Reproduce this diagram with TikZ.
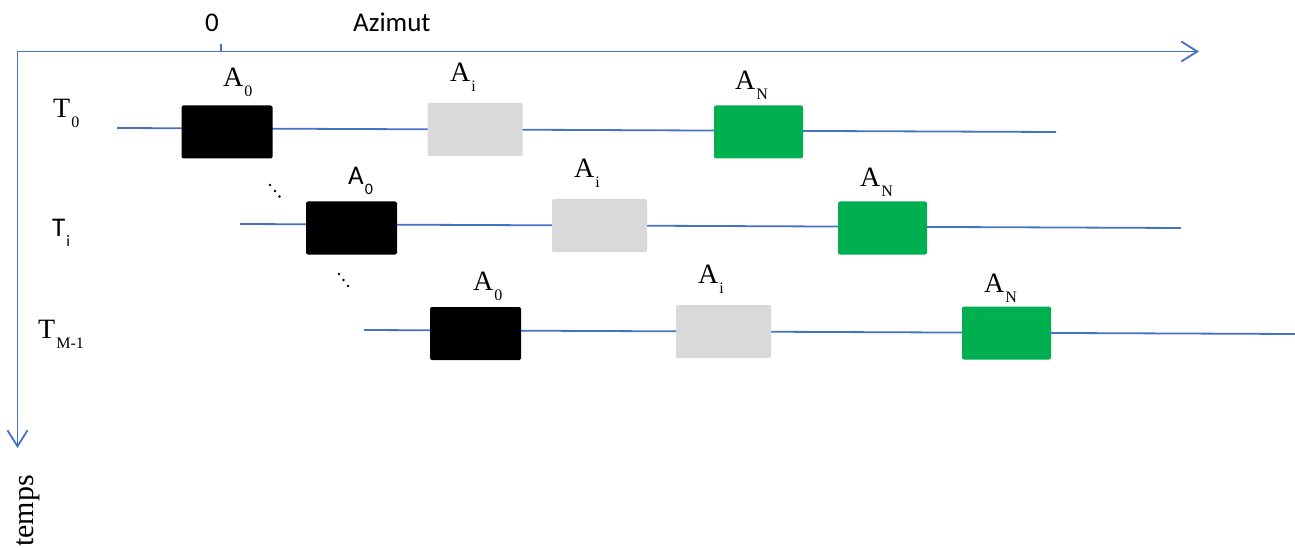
\documentclass[tikz,border=0pt]{standalone}
\usepackage{fontspec}
\setmainfont{Liberation Serif}
\newfontfamily\sansf{Carlito}
\usetikzlibrary{arrows.meta}
\definecolor{axisblue}{RGB}{68,114,196}
\definecolor{boxgray}{RGB}{217,217,217}
\definecolor{boxgreen}{RGB}{0,176,80}
\newcommand\serlab[2]{{\fontsize{28}{28}\selectfont #1}\kern1pt\raisebox{-10pt}{\fontsize{16}{16}\selectfont #2}}
\newcommand\sanlab[2]{{\sansf\fontsize{27}{27}\selectfont #1}\kern1pt\raisebox{-10pt}{\sansf\fontsize{16}{16}\selectfont #2}}
\tikzset{
  axisline/.style={draw=axisblue, line width=1.8pt, {Straight Barb[length=16pt,width=20pt,line width=1.8pt]}-{Straight Barb[length=16pt,width=20pt,line width=1.8pt]}},
  rowline/.style={draw=axisblue, line width=1.8pt},
  tickline/.style={draw=axisblue, line width=1.8pt},
  abox/.style={rectangle, rounded corners=2pt, inner sep=0pt, minimum height=53pt},
  blackbox/.style={abox, fill=black, minimum width=91pt},
  graybox/.style={abox, fill=boxgray, minimum width=95pt},
  greenbox/.style={abox, fill=boxgreen, minimum width=89pt},
  lab/.style={anchor=base west, inner sep=0pt, text=black},
  dotmark/.style={circle, fill=black, inner sep=0pt, minimum size=2.6pt},
}
\begin{document}
\begin{tikzpicture}[x=1pt,y=-1pt]
\useasboundingbox (0,0) rectangle (1295,548);
% axes
\coordinate (corner) at (17.5,51.5);
\coordinate (hend) at (1199,51.5);
\coordinate (vend) at (17.5,448);
\draw[axisline] (vend) -- (corner) -- (hend);
\coordinate (tickt) at (221,44);
\coordinate (tickb) at (221,51.5);
\draw[tickline] (tickt) -- (tickb);
\node[lab] (zero) at (205,32) {\sansf\fontsize{27}{27}\selectfont 0};
\node[lab] (azimut) at (353,32) {\sansf\fontsize{27}{27}\selectfont Azimut};
\node[lab, rotate=90] (temps) at (33,547) {\fontsize{30}{30}\selectfont temps};
% row labels
\node[lab] (t0) at (53,118) {\serlab{T}{0}};
\node[lab] (ti) at (52,236) {\sanlab{T}{i}};
\node[lab] (tm) at (38,338) {\serlab{T}{M-1}};
% row lines
\coordinate (r1s) at (117,128);
\coordinate (r1e) at (1056,132);
\coordinate (r2s) at (240,224);
\coordinate (r2e) at (1181,228);
\coordinate (r3s) at (364,330);
\coordinate (r3e) at (1295,334);
\draw[rowline] (r1s) -- (r1e);
\draw[rowline] (r2s) -- (r2e);
\draw[rowline] (r3s) -- (r3e);
% row 1 boxes
\node[blackbox] (b10) at (227,132) {};
\node[graybox] (b1i) at (475,129.5) {};
\node[greenbox] (b1n) at (758.5,132) {};
\node[lab] (l10) at (223,87) {\serlab{A}{0}};
\node[lab] (l1i) at (450,82) {\serlab{A}{i}};
\node[lab] (l1n) at (735,90) {\serlab{A}{N}};
% row 2 boxes
\node[blackbox] (b20) at (351.5,228) {};
\node[graybox] (b2i) at (599.5,225.5) {};
\node[greenbox] (b2n) at (882.5,228) {};
\node[lab] (l20) at (348,185) {\sanlab{A}{0}};
\node[lab] (l2i) at (574,178) {\serlab{A}{i}};
\node[lab] (l2n) at (860,186) {\serlab{A}{N}};
% row 3 boxes
\node[blackbox] (b30) at (475.5,333.5) {};
\node[graybox] (b3i) at (723.5,331.5) {};
\node[greenbox] (b3n) at (1006.5,333) {};
\node[lab] (l30) at (473,290) {\serlab{A}{0}};
\node[lab] (l3i) at (698,283) {\serlab{A}{i}};
\node[lab] (l3n) at (984,292) {\serlab{A}{N}};
% dots
\node[dotmark] (d1a) at (270,185) {};
\node[dotmark] (d1b) at (275,191) {};
\node[dotmark] (d1c) at (279.5,196.5) {};
\node[dotmark] (d2a) at (339,274) {};
\node[dotmark] (d2b) at (343.5,280) {};
\node[dotmark] (d2c) at (348,286) {};
\end{tikzpicture}
\end{document}
